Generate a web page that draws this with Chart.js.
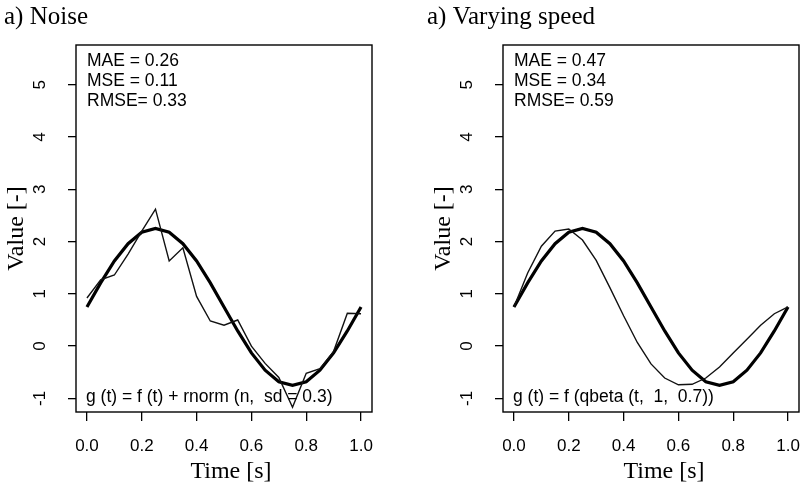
<!DOCTYPE html>
<html>
<head>
<meta charset="utf-8">
<title>Noise vs varying speed</title>
<script src="https://cdn.jsdelivr.net/npm/chart.js@4.4.1/dist/chart.umd.min.js"></script>
<style>
  html, body { margin: 0; padding: 0; background: #fff; overflow: hidden; }
  #wrap { position: relative; width: 801px; height: 486px; overflow: hidden; background: #fff; }
  canvas { position: absolute; top: 0; }
  #noiseChart { left: 0; }
  #speedChart { left: 427px; }
</style>
</head>
<body>
<div id="wrap">
  <canvas id="noiseChart" width="400" height="486"></canvas>
  <canvas id="speedChart" width="400" height="486"></canvas>
</div>
<script>
// ---------------------------------------------------------------
// data
// ---------------------------------------------------------------
const timePoints = [0.00, 0.05, 0.10, 0.15, 0.20, 0.25, 0.30, 0.35, 0.40, 0.45, 0.50,
                    0.55, 0.60, 0.65, 0.70, 0.75, 0.80, 0.85, 0.90, 0.95, 1.00];

// f(t), thick line (same in both panels)
const trueSignal = [0.75, 1.21, 1.63, 1.96, 2.18, 2.25, 2.18, 1.96, 1.63, 1.21, 0.75,
                    0.29, -0.13, -0.46, -0.68, -0.75, -0.68, -0.46, -0.13, 0.29, 0.75];

// g(t) with noise, thin line left
const noisySignal = [0.92, 1.27, 1.36, 1.76, 2.20, 2.62, 1.63, 1.88, 0.95, 0.48, 0.40,
                     0.50, 0.00, -0.33, -0.60, -1.17, -0.52, -0.43, -0.10, 0.63, 0.62];

// g(t) with varying speed, thin line right
const warpedSignal = [0.75, 1.40, 1.91, 2.20, 2.24, 2.03, 1.64, 1.12, 0.58, 0.07, -0.34,
                      -0.61, -0.74, -0.73, -0.61, -0.40, -0.13, 0.13, 0.40, 0.62, 0.75];

const xTicks = [0, 0.2, 0.4, 0.6, 0.8, 1.0];
const xTickLabels = ['0.0', '0.2', '0.4', '0.6', '0.8', '1.0'];
const yTicks = [-1, 0, 1, 2, 3, 4, 5];
const yTickLabels = ['-1', '0', '1', '2', '3', '4', '5'];

const noiseStats = ['MAE = 0.26', 'MSE = 0.11', 'RMSE= 0.33'];
const speedStats = ['MAE = 0.47', 'MSE = 0.34', 'RMSE= 0.59'];

const SANS = '"Liberation Sans", Arial, Helvetica, sans-serif';
const SERIF = '"Liberation Serif", "Times New Roman", serif';

// ---------------------------------------------------------------
// box, rotated y labels, titles and the text inside the panel
// ---------------------------------------------------------------
const panelText = {
    id: 'panelText',
    afterDraw(chart, args, opts) {
        const ctx = chart.ctx;
        const area = chart.chartArea;
        const yScale = chart.scales.y;
        ctx.save();

        ctx.strokeStyle = '#000';
        ctx.lineWidth = 1.4;
        ctx.strokeRect(area.left, area.top, area.right - area.left, area.bottom - area.top);

        ctx.fillStyle = '#000';

        // y tick labels, parallel to the axis like R does
        ctx.font = '17px ' + SANS;
        ctx.textAlign = 'center';
        ctx.textBaseline = 'middle';
        yScale.ticks.forEach((tk, i) => {
            const y = yScale.getPixelForValue(tk.value);
            ctx.save();
            ctx.translate(area.left - 36, y);
            ctx.rotate(-Math.PI / 2);
            ctx.fillText(yTickLabels[i], 0, 0);
            ctx.restore();
        });

        // axis titles
        ctx.font = '24px ' + SERIF;
        ctx.textBaseline = 'alphabetic';
        ctx.fillText('Time [s]', (area.left + area.right) / 2 + opts.xLabelShift, 478);
        ctx.save();
        ctx.translate(23, (area.top + area.bottom) / 2);
        ctx.rotate(-Math.PI / 2);
        ctx.fillText('Value [-]', 0, 0);
        ctx.restore();

        // panel title
        ctx.textAlign = 'left';
        ctx.font = '25px ' + SERIF;
        ctx.fillText(opts.title, opts.titleX, 24);

        // error measures top left
        ctx.font = '17.5px ' + SANS;
        opts.stats.forEach((line, i) => {
            ctx.fillText(line, area.left + 11, area.top + 21 + i * 20);
        });

        // formula bottom left
        ctx.fillText(opts.formula, area.left + 10, area.bottom - 10.5);

        ctx.restore();
    }
};

function makePanel(canvasId, observed, stats, title, formula, titleX, xLabelShift) {
    const ctx = document.getElementById(canvasId).getContext('2d');
    return new Chart(ctx, {
        type: 'scatter',
        data: {
            datasets: [
                {
                    data: timePoints.map((t, i) => ({ x: t, y: observed[i] })),
                    showLine: true,
                    borderColor: '#111',
                    borderWidth: 1.4,
                    pointRadius: 0
                },
                {
                    data: timePoints.map((t, i) => ({ x: t, y: trueSignal[i] })),
                    showLine: true,
                    borderColor: '#000',
                    borderWidth: 3.2,
                    pointRadius: 0
                }
            ]
        },
        options: {
            responsive: false,
            animation: false,
            layout: { padding: { top: 45, right: 28, left: 0, bottom: 0 } },
            plugins: {
                legend: { display: false },
                tooltip: { enabled: false },
                panelText: { title, stats, formula, titleX, xLabelShift }
            },
            scales: {
                x: {
                    type: 'linear',
                    min: -0.04,
                    max: 1.04,
                    afterBuildTicks: s => { s.ticks = xTicks.map(v => ({ value: v })); },
                    afterFit: s => { s.height = 74; },
                    grid: { drawOnChartArea: false, drawTicks: true, tickLength: 9, color: '#000', lineWidth: 1.3 },
                    border: { display: false },
                    ticks: {
                        callback: (v, i) => xTickLabels[i],
                        font: { family: SANS, size: 17 },
                        color: '#000',
                        padding: 15,
                        autoSkip: false,
                        maxRotation: 0
                    }
                },
                y: {
                    type: 'linear',
                    min: -1.26,
                    max: 5.76,
                    afterBuildTicks: s => { s.ticks = yTicks.map(v => ({ value: v })); },
                    afterFit: s => { s.width = 76; },
                    grid: { drawOnChartArea: false, drawTicks: true, tickLength: 8, color: '#000', lineWidth: 1.3 },
                    border: { display: false },
                    ticks: { display: false }
                }
            }
        },
        plugins: [panelText]
    });
}

document.addEventListener('DOMContentLoaded', () => {
    makePanel('noiseChart', noisySignal, noiseStats, 'a) Noise',
        'g (t) = f (t) + rnorm (n,  sd = 0.3)', 4, 7);
    makePanel('speedChart', warpedSignal, speedStats, 'a) Varying speed',
        'g (t) = f (qbeta (t,  1,  0.7))', 0, 13);
});
</script>
</body>
</html>
